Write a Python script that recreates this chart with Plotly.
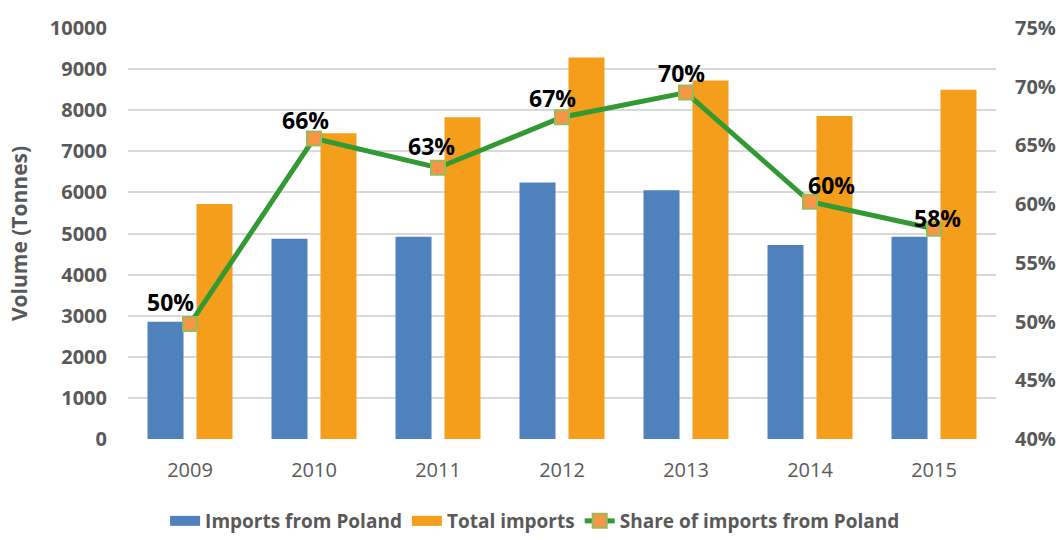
import plotly.graph_objects as go

years = ["2009", "2010", "2011", "2012", "2013", "2014", "2015"]
imports_poland = [2850, 4870, 4920, 6240, 6050, 4720, 4920]
total_imports = [5720, 7440, 7830, 9280, 8720, 7860, 8500]
share_poland = [0.498, 0.656, 0.631, 0.674, 0.695, 0.602, 0.579]
share_labels = ["50%", "66%", "63%", "67%", "70%", "60%", "58%"]
# label placement offsets (px) relative to each marker, as in the original chart
label_dx = [-20, -9, -7, -10, -5, 21, 3]
label_dy = [22, 18, 22, 19, 20, 17, 11]

BLUE = "#4F81BD"
ORANGE = "#F59E1B"
GREEN = "#339933"
GRAY = "#595959"

fig = go.Figure()
fig.add_trace(go.Bar(x=years, y=imports_poland, name="Imports from Poland",
                     legendgroup="a", showlegend=False,
                     marker=dict(color=BLUE, line=dict(width=0))))
fig.add_trace(go.Bar(x=years, y=total_imports, name="Total imports",
                     legendgroup="b", showlegend=False,
                     marker=dict(color=ORANGE, line=dict(width=0))))
fig.add_trace(go.Scatter(x=years, y=share_poland, name="Share of imports from Poland",
                         yaxis="y2", mode="lines+markers", legendgroup="c", showlegend=False,
                         line=dict(color=GREEN, width=5),
                         marker=dict(symbol="square", size=14, color="#F79646",
                                     line=dict(color="#9BBB59", width=2)),
                         cliponaxis=False))
# legend entries
fig.add_trace(go.Scatter(x=[years[0]], y=[None], mode="lines", name="Imports from Poland",
                         legendgroup="a", line=dict(color=BLUE, width=14)))
fig.add_trace(go.Scatter(x=[years[0]], y=[None], mode="lines", name="Total imports",
                         legendgroup="b", line=dict(color=ORANGE, width=14)))
fig.add_trace(go.Scatter(x=[years[0]], y=[None], mode="lines+markers", yaxis="y2",
                         name="Share of imports from Poland", legendgroup="c",
                         line=dict(color=GREEN, width=5),
                         marker=dict(symbol="square", size=14, color="#F79646",
                                     line=dict(color="#9BBB59", width=2))))

for i, (v, t, dx, dy) in enumerate(zip(share_poland, share_labels, label_dx, label_dy)):
    fig.add_annotation(x=i, y=v, xref="x", yref="y2", text=t, showarrow=False,
                       xshift=dx, yshift=dy,
                       font=dict(family="Open Sans", size=23, color="black", weight="bold"))

fig.update_layout(
    width=1060, height=540,
    margin=dict(l=128, r=64, t=28, b=101),
    paper_bgcolor="white", plot_bgcolor="white",
    barmode="group", bargap=0.21, bargroupgap=0.265,
    showlegend=True,
    legend=dict(orientation="h", x=0.469, xanchor="center",
                yref="container", y=0.0, yanchor="bottom",
                font=dict(family="Open Sans", size=19, color=GRAY, weight="bold"),
                traceorder="normal", itemsizing="trace", tracegroupgap=0),
    xaxis=dict(type="category", categoryorder="array", categoryarray=years,
               range=[-0.5, len(years) - 0.5],
               showgrid=False, showline=False, ticks="", automargin=False,
               ticklabelstandoff=17,
               tickfont=dict(family="Open Sans", size=20, color=GRAY)),
    yaxis=dict(range=[0, 10000], dtick=1000, tickformat="d", showgrid=True,
               gridcolor="#D9D9D9", gridwidth=1.5, automargin=False,
               zeroline=False, showline=False, ticks="", ticklabelstandoff=20,
               tickfont=dict(family="Open Sans", size=20, color=GRAY, weight="bold"),
               title=dict(text="Volume (Tonnes)", standoff=16,
                          font=dict(family="Open Sans", size=21, color=GRAY, weight="bold"))),
    yaxis2=dict(overlaying="y", side="right", range=[0.40, 0.75], dtick=0.05, tickformat=".0%",
                showgrid=False, zeroline=False, showline=False, ticks="", automargin=False,
                ticklabelstandoff=18,
                tickfont=dict(family="Open Sans", size=20, color=GRAY, weight="bold")),
)

post = "document.body.style.margin='0';document.body.style.overflow='hidden';"
fig.write_html("out.html", config={"displayModeBar": False}, post_script=post)
